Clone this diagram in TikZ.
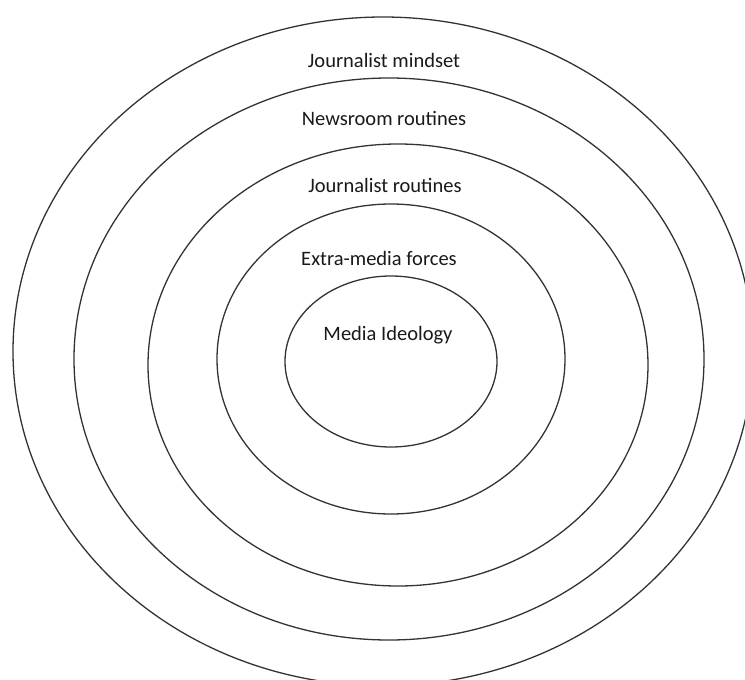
\documentclass[tikz,border=0pt]{standalone}
\usepackage{fontspec}
\setmainfont{Carlito}
\begin{document}
\begin{tikzpicture}[x=1pt,y=-1pt,
  ring/.style={draw=black!80,line width=1.3pt},
  lbl/.style={anchor=base,inner sep=0pt,text=black!90,font=\fontsize{20.5}{24}\selectfont}]
\useasboundingbox (0,0) rectangle (745,680);
\clip (0,0) rectangle (745,680);
\draw[ring] (383,351.4) ellipse [x radius=370,y radius=334.4];
\draw[ring] (389,359) ellipse [x radius=315,y radius=281];
\draw[ring] (398,365) ellipse [x radius=250,y radius=221];
\draw[ring] (391,359) ellipse [x radius=174,y radius=155];
\draw[ring] (391,361.5) ellipse [x radius=106,y radius=85.5];
\node[lbl] (jm) at (384,67) {Journalist mindset};
\node[lbl] (nr) at (384,125) {Newsroom routines};
\node[lbl] (jr) at (385,192) {Journalist routines};
\node[lbl] (em) at (379,265) {Extra-media forces};
\node[lbl] (mi) at (388,340) {Media Ideology};
\end{tikzpicture}
\end{document}
